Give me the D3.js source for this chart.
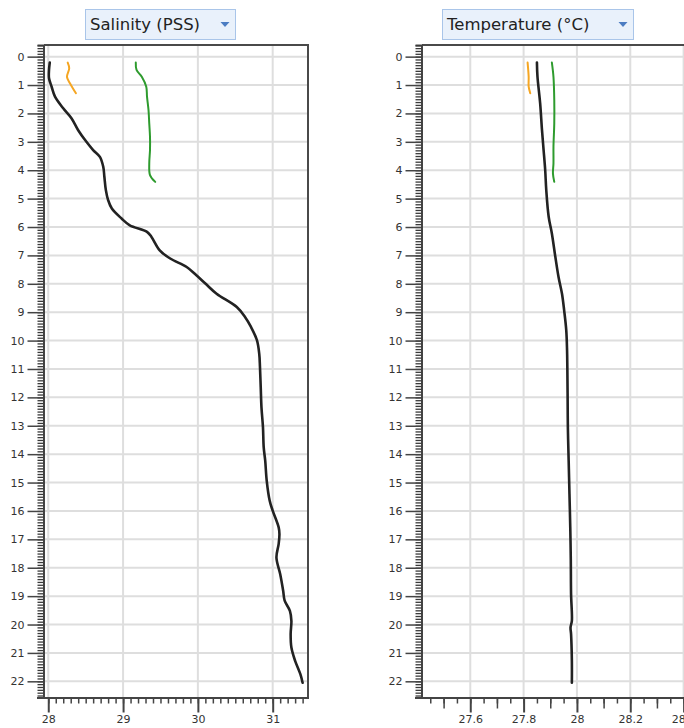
<!DOCTYPE html>
<html>
<head>
<meta charset="utf-8">
<script src="https://cdn.jsdelivr.net/npm/d3@7"></script>
<style>
  html, body { margin: 0; padding: 0; background: #fff; }
  svg { display: block; }
  .tick text { font-family: "DejaVu Sans", sans-serif; font-size: 11px; fill: #333; }
</style>
</head>
<body>
<svg id="chart" width="684" height="728"></svg>
<script>
// Depth profiles (m) from three casts: CTD (black), cast A (orange), cast B (green)
const salDepth = [0.21,0.47,0.76,1.06,1.41,1.82,2.17,2.59,3.0,3.29,3.53,3.88,4.23,4.70,5.05,5.35,5.70,5.94,6.17,6.35,6.82,7.11,7.41,7.70,7.99,8.35,8.82,9.17,9.52,9.99,10.46,10.93,11.64,12.35,13.05,13.76,14.23,14.93,15.64,15.99,16.58,16.81,17.16,17.64,18.22,18.81,19.16,19.52,19.87,20.34,20.81,21.28,21.75,22.05];
const salCTD   = [28.02,28.01,28.01,28.045,28.09,28.2,28.31,28.40,28.51,28.60,28.69,28.735,28.75,28.77,28.80,28.85,28.98,29.09,29.32,29.38,29.49,29.63,29.85,29.98,30.10,30.25,30.52,30.63,30.71,30.79,30.82,30.83,30.84,30.85,30.87,30.88,30.90,30.92,30.96,31.00,31.08,31.09,31.08,31.05,31.10,31.14,31.16,31.23,31.25,31.24,31.25,31.30,31.37,31.40];

const salDepthA = [0.21,0.41,0.71,0.94,1.12,1.29];
const salCastA  = [28.26,28.28,28.25,28.29,28.33,28.37];

const salDepthB = [0.21,0.47,0.71,1.06,1.41,1.88,2.35,2.82,3.29,3.76,4.17,4.41];
const salCastB  = [29.17,29.18,29.25,29.31,29.32,29.34,29.35,29.36,29.36,29.35,29.36,29.43];

const tempDepth = [0.21,0.70,1.64,2.59,3.29,4.0,4.70,5.64,6.23,7.05,7.76,8.35,8.93,9.64,10.35,10.93,11.87,13.05,14.23,15.40,16.58,17.75,18.93,19.87,20.1,20.34,21.28,22.05];
const tempCTD   = [27.850,27.852,27.862,27.869,27.875,27.881,27.885,27.894,27.906,27.919,27.931,27.944,27.952,27.960,27.963,27.964,27.965,27.966,27.969,27.972,27.975,27.977,27.978,27.981,27.976,27.978,27.981,27.981];

const tempDepthA = [0.21,0.71,1.06,1.29];
const tempCastA  = [27.815,27.819,27.819,27.825];

const tempDepthB = [0.21,0.71,1.53,2.35,3.17,3.76,4.11,4.41];
const tempCastB  = [27.906,27.912,27.915,27.915,27.912,27.912,27.910,27.915];

// Axis ticks
const depthTicks = d3.range(0, 23);
const salTicks = [28, 29, 30, 31];
const tempTicks = [27.6, 27.8, 28, 28.2, 28.4];

const colors = { ctd: "#222222", a: "#f5a623", b: "#2e9b2e" };

const svg = d3.select("#chart");

const y = d3.scaleLinear().domain([-0.41, 22.57]).range([45, 697.5]);

function panel(opts) {
  const g = svg.append("g");
  const x = d3.scaleLinear().domain(opts.domain).range(opts.range);
  const [x0, x1] = opts.range;
  const top = 45, bottom = 697.5;
  const clipId = "clip-" + opts.id;

  g.append("clipPath").attr("id", clipId)
    .append("rect").attr("x", x0).attr("y", top).attr("width", x1 - x0).attr("height", bottom - top);

  // grid
  const grid = g.append("g").attr("clip-path", `url(#${clipId})`);
  grid.selectAll("line.h").data(depthTicks).join("line")
    .attr("x1", x0).attr("x2", x1)
    .attr("y1", d => y(d)).attr("y2", d => y(d))
    .attr("stroke", "#dedede").attr("stroke-width", 2);
  grid.selectAll("line.v").data(opts.gridX).join("line")
    .attr("x1", d => x(d)).attr("x2", d => x(d))
    .attr("y1", top).attr("y2", bottom)
    .attr("stroke", "#dedede").attr("stroke-width", 2);

  // profiles
  const line = d3.line().curve(d3.curveCatmullRom.alpha(0.5));
  const series = [
    { depth: opts.depthB, vals: opts.valsB, color: colors.b, w: 2 },
    { depth: opts.depthA, vals: opts.valsA, color: colors.a, w: 2 },
    { depth: opts.depth,  vals: opts.vals,  color: colors.ctd, w: 2.6 }
  ];
  const lines = g.append("g").attr("clip-path", `url(#${clipId})`);
  series.forEach(s => {
    lines.append("path")
      .attr("d", line(s.vals.map((v, i) => [x(v), y(s.depth[i])])))
      .attr("fill", "none")
      .attr("stroke", s.color)
      .attr("stroke-width", s.w)
      .attr("stroke-linejoin", "round")
      .attr("stroke-linecap", "round");
  });

  // frame
  g.append("line").attr("x1", x0).attr("x2", x1 + 1).attr("y1", top).attr("y2", top)
    .attr("stroke", "#4a4a4a").attr("stroke-width", 2);
  if (opts.rightBorder) {
    g.append("line").attr("x1", x1).attr("x2", x1).attr("y1", top).attr("y2", bottom)
      .attr("stroke", "#4a4a4a").attr("stroke-width", 2);
  }

  // y axis: dense ruler + major ticks
  const yMinor = d3.range(-4, 226).map(d => d / 10);
  const yMinorAxis = g.append("g").attr("transform", `translate(${x0 - 0.5},0)`)
    .call(d3.axisLeft(y).tickValues(yMinor).tickSize(6).tickFormat(""));
  yMinorAxis.selectAll("line").attr("stroke", "#3a3a3a").attr("stroke-width", 1.3);
  yMinorAxis.select(".domain").attr("stroke", "#444").attr("stroke-width", 2);

  const yAxis = g.append("g").attr("transform", `translate(${x0 - 0.5},0)`)
    .call(d3.axisLeft(y).tickValues(depthTicks).tickSize(16).tickPadding(3).tickFormat(d3.format("d")));
  yAxis.select(".domain").remove();
  yAxis.selectAll("line").attr("stroke", "#444").attr("stroke-width", 1.5);

  // x axis along the bottom
  const xMinorAxis = g.append("g").attr("transform", `translate(0,${bottom})`)
    .call(d3.axisBottom(x).tickValues(opts.minorX).tickSize(6).tickFormat(""));
  xMinorAxis.selectAll("line").attr("stroke", "#444").attr("stroke-width", 1.5);
  xMinorAxis.select(".domain").attr("stroke", "#444").attr("stroke-width", 2)
    .attr("d", `M${x0 - 7},0.5H${x1 + 1}`);

  if (opts.midX) {
    const xMid = g.append("g").attr("transform", `translate(0,${bottom})`)
      .call(d3.axisBottom(x).tickValues(opts.midX).tickSize(11).tickFormat(""));
    xMid.select(".domain").remove();
    xMid.selectAll("line").attr("stroke", "#444").attr("stroke-width", 1.5);
  }

  const xAxis = g.append("g").attr("transform", `translate(0,${bottom})`)
    .call(d3.axisBottom(x).tickValues(opts.majorX).tickSize(15).tickPadding(3).tickFormat(d => String(+d.toFixed(1))));
  xAxis.select(".domain").remove();
  xAxis.selectAll("line").attr("stroke", "#444").attr("stroke-width", 2);

  // dropdown-style title
  const t = g.append("g");
  t.append("rect")
    .attr("x", opts.title.x + 0.5).attr("y", 9.5)
    .attr("width", opts.title.w).attr("height", 30)
    .attr("fill", "#e9f1fb").attr("stroke", "#a9c5e9");
  t.append("text")
    .attr("x", opts.title.x + 5).attr("y", 30)
    .attr("font-family", "DejaVu Sans, sans-serif").attr("font-size", 16.5)
    .attr("fill", "#222").text(opts.title.text);
  const tx = opts.title.x + opts.title.w - 10;
  t.append("path")
    .attr("d", `M${tx - 4.5},22 L${tx + 4.5},22 L${tx},27 Z`)
    .attr("fill", "#4b7cc2");
}

panel({
  id: "sal",
  domain: [27.943, 31.472], range: [44, 308],
  depth: salDepth, vals: salCTD,
  depthA: salDepthA, valsA: salCastA,
  depthB: salDepthB, valsB: salCastB,
  gridX: salTicks,
  majorX: salTicks,
  minorX: d3.range(280, 315).map(d => d / 10),
  rightBorder: true,
  title: { x: 85, w: 150, text: "Salinity (PSS)" }
});

panel({
  id: "temp",
  domain: [27.419, 28.409], range: [422, 686],
  depth: tempDepth, vals: tempCTD,
  depthA: tempDepthA, valsA: tempCastA,
  depthB: tempDepthB, valsB: tempCastB,
  gridX: tempTicks,
  majorX: tempTicks,
  midX: [27.5, 27.7, 27.9, 28.1, 28.3],
  minorX: d3.range(549, 569, 1).map(d => d / 20),
  rightBorder: false,
  title: { x: 442, w: 191, text: "Temperature (°C)" }
});
</script>
</body>
</html>
